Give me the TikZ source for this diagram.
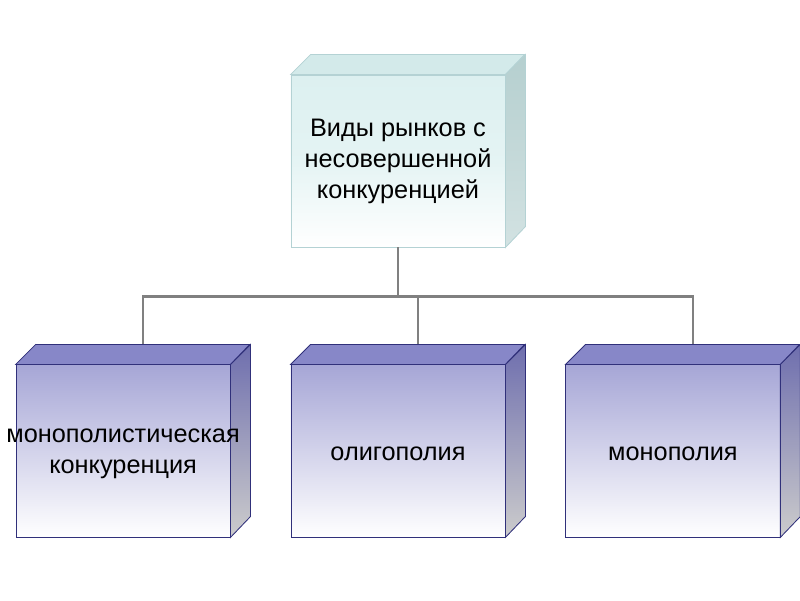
\documentclass[tikz,border=0pt]{standalone}
\usepackage{fontspec}
\setmainfont{Liberation Sans}
\usetikzlibrary{positioning}

\definecolor{headfront}{HTML}{DCF0F0}
\definecolor{headtop}{HTML}{D3EAEA}
\definecolor{headside}{HTML}{B5CFCF}
\definecolor{headedge}{HTML}{B4D2D4}
\definecolor{kindfront}{HTML}{A6A6D6}
\definecolor{kindtop}{HTML}{8787C8}
\definecolor{kindside}{HTML}{6E6EAE}
\definecolor{kindedge}{HTML}{30307A}
\definecolor{linkgray}{HTML}{808080}

\tikzset{
  kind/.style={draw=kindedge, line width=0.6pt, top color=kindfront,
    middle color=kindfront!80!white, bottom color=white,
    minimum width=5.35cm, minimum height=4.3cm, inner sep=0pt},
  head/.style={kind, draw=headedge, top color=headfront,
    middle color=headfront!75!white},
  kindtext/.style={align=center, text=black},
  link/.style={draw=linkgray, line width=1.7pt},
}

\begin{document}
\begin{tikzpicture}[x=0.025cm, y=-0.025cm, font=\fontsize{18}{22}\selectfont]

\useasboundingbox (0,0) rectangle (800,600);

% boxes (front faces)
\node[head] (kinds) at (398,161) {};
\node[kind, below=2.925cm of kinds] (oligo) {};
\node[kind, left=1.5cm of oligo] (mono-comp) {};
\node[kind, right=1.5cm of oligo] (monopoly) {};

% back edges of the top faces
\path
([shift={(20,-20)}]mono-comp.north) coordinate (mono-comp-back)
([shift={(20,-20)}]oligo.north) coordinate (oligo-back)
([shift={(20,-20)}]monopoly.north) coordinate (monopoly-back)
(kinds.south) ++(0,49) coordinate (bus)
;

% connectors
\draw[link] (kinds.south) -- (bus);
\draw[link] (mono-comp-back) |- (bus) -| (monopoly-back);
\draw[link] (oligo-back) -- (oligo-back |- bus);

% depth of the top box
\fill[headtop, draw=headedge, line width=0.6pt]
(kinds.north west) -- ++(20,-20) -- ++(214,0) -- (kinds.north east) -- cycle;
\shade[top color=headside, bottom color=headside!60!white, draw=headedge, line width=0.6pt]
(kinds.north east) -- ++(20,-20) -- ++(0,172) -- (kinds.south east) -- cycle;

% depth of the lower boxes
\foreach \b in {mono-comp, oligo, monopoly} {
  \fill[kindtop, draw=kindedge, line width=0.6pt]
  (\b.north west) -- ++(20,-20) -- ++(214,0) -- (\b.north east) -- cycle;
  \shade[top color=kindside, bottom color=gray!40!white, draw=kindedge, line width=0.6pt]
  (\b.north east) -- ++(20,-20) -- ++(0,172) -- (\b.south east) -- cycle;
}

% labels
\node[kindtext] (kinds-txt) at (kinds.center)
{Виды рынков с\\несовершенной\\конкуренцией};
\node[kindtext] (mono-comp-txt) at ([yshift=-2]mono-comp.center)
{монополистическая\\конкуренция};
\node[kindtext] (oligo-txt) at ([yshift=-2]oligo.center) {олигополия};
\node[kindtext] (monopoly-txt) at ([yshift=-2]monopoly.center) {монополия};

\end{tikzpicture}
\end{document}
